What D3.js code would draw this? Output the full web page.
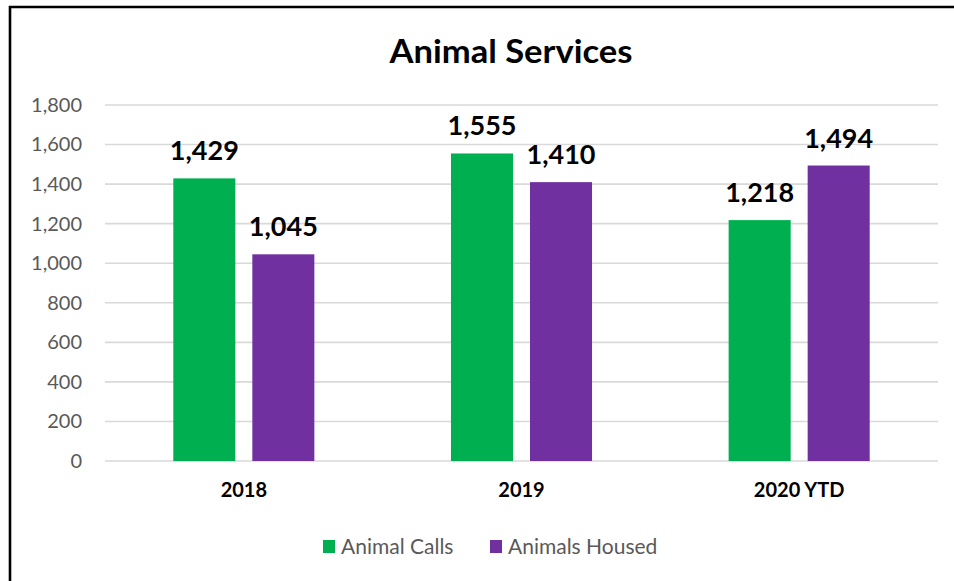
<!DOCTYPE html>
<html>
<head>
<meta charset="utf-8">
<script src="https://cdn.jsdelivr.net/npm/d3@7"></script>
<style>
  body { margin: 0; background: #fff; }
  svg { display: block; }
  text { font-family: Lato, "Open Sans", sans-serif; }
</style>
</head>
<body>
<div id="chart"></div>
<script>
const categories = ["2018", "2019", "2020 YTD"];
const seriesNames = ["Animal Calls", "Animals Housed"];
const animalCalls = [1429, 1555, 1218];
const animalsHoused = [1045, 1410, 1494];
const yTicks = [0, 200, 400, 600, 800, 1000, 1200, 1400, 1600, 1800];
const colors = ["#00B050", "#7030A0"];

const W = 954, H = 581;
const margin = {top: 105, right: 16, bottom: 120, left: 105};
const width = W - margin.left - margin.right,
      height = H - margin.top - margin.bottom;

const svg = d3.select("#chart").append("svg")
  .attr("width", W)
  .attr("height", H);

svg.append("rect").attr("width", W).attr("height", H).attr("fill", "#fff");

// frame (left + top edges only, the rest is cropped)
svg.append("path")
  .attr("d", `M10,${H} L10,7 L${W},7`)
  .attr("fill", "none")
  .attr("stroke", "#000")
  .attr("stroke-width", 2.6);

svg.append("text")
  .attr("x", 511).attr("y", 63)
  .attr("text-anchor", "middle")
  .attr("font-size", 32)
  .attr("font-weight", "bold")
  .attr("fill", "#000")
  .attr("textLength", 243)
  .attr("lengthAdjust", "spacingAndGlyphs")
  .text("Animal Services");

const g = svg.append("g").attr("transform", `translate(${margin.left},${margin.top})`);

const y = d3.scaleLinear().domain([0, 1800]).range([height, 0]);
const x0 = d3.scaleBand().domain(categories).range([0, width]).paddingInner(0.492).paddingOuter(0.246);
const x1 = d3.scaleBand().domain(seriesNames).range([0, x0.bandwidth()]).paddingInner(0.215).paddingOuter(0);

// gridlines
g.append("g")
  .selectAll("line")
  .data(yTicks)
  .enter().append("line")
  .attr("x1", 0).attr("x2", width)
  .attr("y1", d => y(d)).attr("y2", d => y(d))
  .attr("stroke", "#d9d9d9")
  .attr("stroke-width", 1.6);

// y axis labels
const yAxis = g.append("g")
  .call(d3.axisLeft(y).tickValues(yTicks).tickFormat(d3.format(",")).tickSize(0).tickPadding(23));
yAxis.select(".domain").remove();
yAxis.selectAll("text")
  .attr("font-size", 20)
  .attr("font-family", "Lato, sans-serif")
  .attr("fill", "#595959");

// x axis labels
const xAxis = g.append("g")
  .attr("transform", `translate(0,${height})`)
  .call(d3.axisBottom(x0).tickSize(0).tickPadding(22));
xAxis.select(".domain").remove();
xAxis.selectAll("text")
  .attr("font-size", 20)
  .attr("font-weight", "bold")
  .attr("font-family", "Lato, sans-serif")
  .attr("fill", "#000");

const rows = categories.map((c, i) => ({
  category: c,
  values: [animalCalls[i], animalsHoused[i]].map((v, j) => ({series: seriesNames[j], value: v, color: colors[j]}))
}));

const groups = g.selectAll(".grp")
  .data(rows)
  .enter().append("g")
  .attr("class", "grp")
  .attr("transform", d => `translate(${x0(d.category)},0)`);

groups.selectAll("rect")
  .data(d => d.values)
  .enter().append("rect")
  .attr("x", d => x1(d.series))
  .attr("y", d => y(d.value))
  .attr("width", x1.bandwidth())
  .attr("height", d => height - y(d.value))
  .attr("fill", d => d.color);

groups.selectAll(".lbl")
  .data(d => d.values)
  .enter().append("text")
  .attr("class", "lbl")
  .attr("x", d => x1(d.series) + x1.bandwidth() / 2)
  .attr("y", d => y(d.value) - 18)
  .attr("text-anchor", "middle")
  .attr("font-size", 27)
  .attr("font-weight", "bold")
  .attr("fill", "#000")
  .text(d => d3.format(",")(d.value));

// legend
const legend = svg.append("g");
const legendX = [323, 490];
seriesNames.forEach((s, i) => {
  legend.append("rect")
    .attr("x", legendX[i]).attr("y", 540)
    .attr("width", 12).attr("height", 13)
    .attr("fill", colors[i]);
  legend.append("text")
    .attr("x", legendX[i] + 18).attr("y", 554)
    .attr("font-size", 21)
    .attr("fill", "#595959")
    .text(s);
});
</script>
</body>
</html>
